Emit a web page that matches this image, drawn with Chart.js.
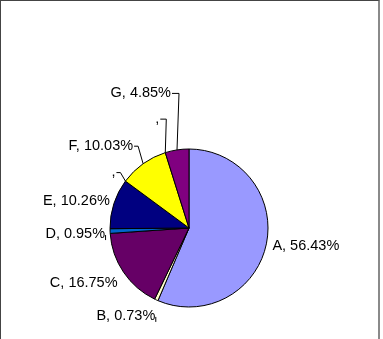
<!DOCTYPE html>
<html>
<head>
<meta charset="utf-8">
<script src="https://cdn.jsdelivr.net/npm/chart.js@4/dist/chart.umd.min.js"></script>
<style>
  html, body { margin: 0; padding: 0; background: #fff; }
  #wrap { position: relative; width: 383px; height: 339px; }
  #frame {
    position: absolute; left: 0; top: 0; width: 377px; height: 339px;
    border-left: 1px solid #444; border-top: 1px solid #444; border-right: 2px solid #8a8a8a;
    pointer-events: none;
  }
</style>
</head>
<body>
<div id="wrap">
  <canvas id="pieChart"></canvas>
  <div id="frame"></div>
</div>
<script>
// slices, clockwise from 12 o'clock (two empty categories show only a comma)
const categories = ['A', 'B', 'C', 'D', 'E', '', 'F', '', 'G'];
const shares = [56.43, 0.73, 16.75, 0.95, 10.26, 0, 10.03, 0, 4.85];
const colors = ['#9999FF', '#FFFFCC', '#660066', '#0066CC', '#000080', '#FF00FF', '#FFFF00', '#00FFFF', '#800080'];

// where each label sits relative to its point on the rim
const labelStyle = [
  { dx: 6, dy: 2, align: 'left', leader: 'none' },
  { dx: -1, dy: 16, align: 'right', leader: 'tick' },
  { dx: -6, dy: 11, align: 'right', leader: 'none' },
  { dx: -5, dy: 3, align: 'right', leader: 'tick' },
  { dx: -4, dy: -3, align: 'right', leader: 'none' },
  { dx: -10, dy: -9, align: 'right', leader: 'bend', bend: 5 },
  { dx: -10, dy: -18, align: 'right', leader: 'bend', bend: 5 },
  { dx: -6, dy: -34, align: 'right', leader: 'bend', bend: 7 },
  { dx: -6, dy: -57, align: 'right', leader: 'bend', bend: 8 }
];

const labelText = i => categories[i] + ',' + (shares[i] ? ' ' + shares[i].toFixed(2) + '%' : '');

const pieLabels = {
  id: 'pieLabels',
  afterDatasetsDraw(chart) {
    const ctx = chart.ctx;
    const arcs = chart.getDatasetMeta(0).data;
    ctx.save();
    ctx.font = '14.5px "Liberation Sans", Arial, sans-serif';
    ctx.fillStyle = '#000';
    ctx.strokeStyle = '#000';
    ctx.lineWidth = 1;
    ctx.textBaseline = 'middle';
    arcs.forEach((arc, i) => {
      const p = arc.getProps(['x', 'y', 'startAngle', 'endAngle', 'outerRadius'], true);
      const mid = (p.startAngle + p.endAngle) / 2;
      const ax = p.x + p.outerRadius * Math.cos(mid);
      const ay = p.y + p.outerRadius * Math.sin(mid);
      const s = labelStyle[i];
      const tx = ax + s.dx;
      const ty = ay + s.dy;
      const text = labelText(i);
      ctx.textAlign = s.align;
      ctx.fillText(text, tx, ty);
      ctx.beginPath();
      if (s.leader === 'bend') {
        ctx.moveTo(tx + 1, ty + 0.5);
        ctx.lineTo(tx + s.bend, ty + 0.5);
        ctx.lineTo(ax, ay);
        ctx.stroke();
      } else if (s.leader === 'tick') {
        ctx.moveTo(tx + 0.5, ty + 1);
        ctx.lineTo(tx + 0.5, ty + 6);
        ctx.stroke();
      }
    });
    ctx.restore();
  }
};

new Chart(document.getElementById('pieChart').getContext('2d'), {
  type: 'pie',
  data: {
    labels: categories,
    datasets: [{
      data: shares,
      backgroundColor: colors,
      borderColor: '#000',
      borderWidth: 1,
      hoverOffset: 0
    }]
  },
  options: {
    responsive: true,
    maintainAspectRatio: false,
    animation: false,
    radius: 79,
    layout: { padding: { left: 20, right: 25, top: 118, bottom: 1 } },
    plugins: {
      legend: { display: false },
      tooltip: { enabled: false }
    }
  },
  plugins: [pieLabels]
});
</script>
</body>
</html>
